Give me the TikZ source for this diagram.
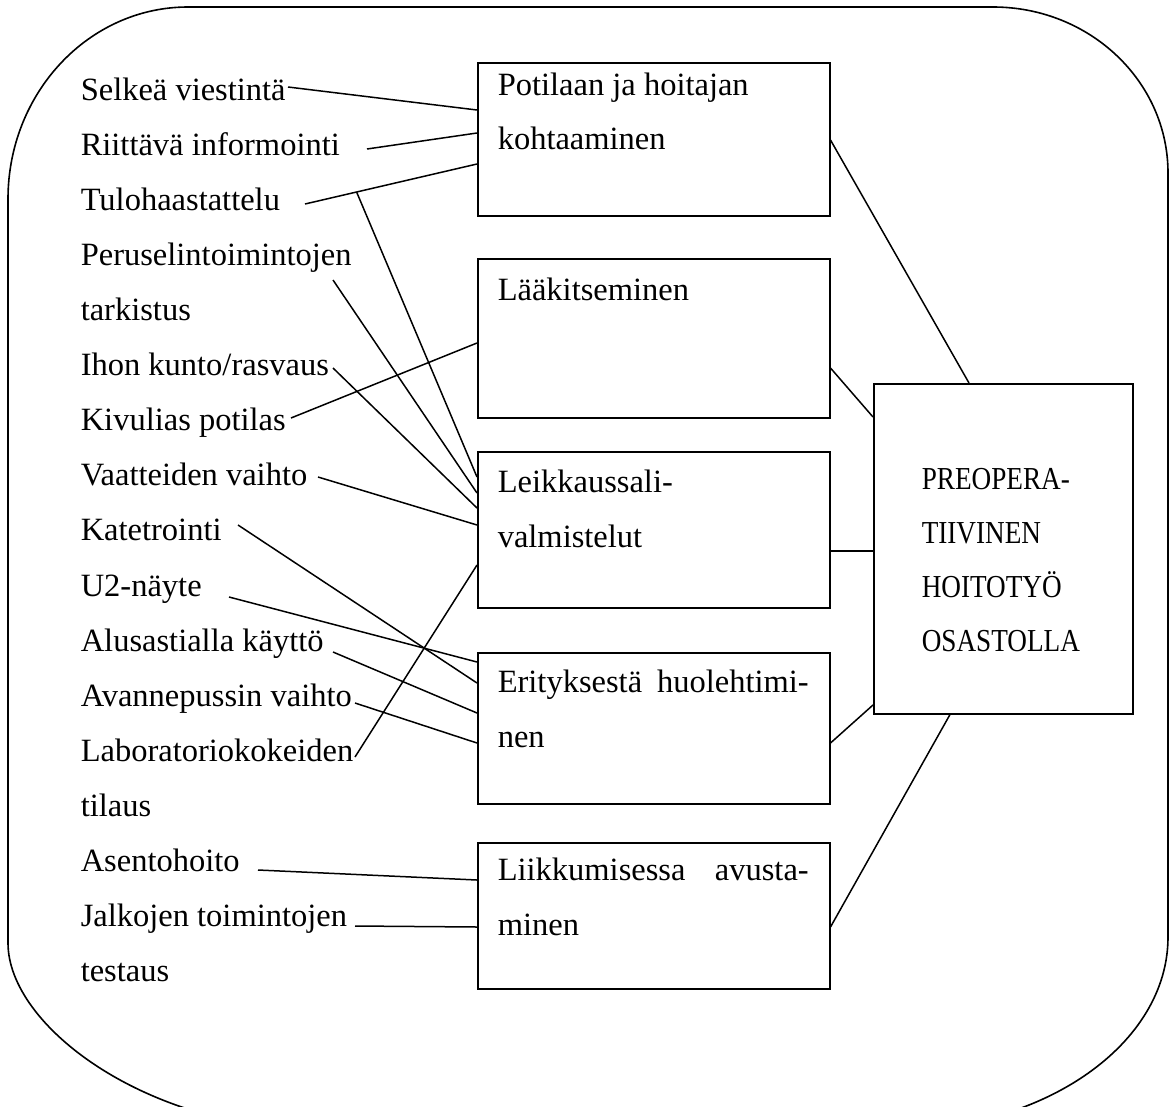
\documentclass[tikz,border=0pt]{standalone}
\usepackage{fontspec}
\setmainfont{Liberation Serif}
\newfontfamily\headfont[FakeStretch=0.85]{Liberation Serif}
\usetikzlibrary{calc}

\begin{document}
\begin{tikzpicture}[x=1pt,y=-1pt,line width=1.5pt,
  lbl/.style={anchor=base west,inner sep=0pt,font=\fontsize{32.5}{40}\selectfont},
  head/.style={anchor=base west,inner sep=0pt,font=\headfont\fontsize{32}{40}\selectfont},
  box/.style={draw,anchor=north west,inner sep=0pt,minimum width=352pt},
  link/.style={line width=1.5pt}]
\useasboundingbox (0,0) rectangle (1170,1106);
\clip (0,0) rectangle (1170,1106);

% outer frame with rounded corners
\draw[line width=1.6pt] (8,943) -- (8,199)
  .. controls (8,93) and (88.6,7) .. (188,7)
  -- (993,7)
  .. controls (1089.7,7) and (1168,81.3) .. (1168,173)
  -- (1168,937)
  .. controls (1168,1043.6) and (1045.3,1130) .. (894,1130)
  -- (321,1130)
  .. controls (148.1,1130) and (8,1026.7) .. (8,943);

% activity boxes
\node[box,minimum height=153pt] (b1) at (477,62) {};
\node[box,minimum height=159pt] (b2) at (477,258) {};
\node[box,minimum height=156pt] (b3) at (477,451) {};
\node[box,minimum height=151pt] (b4) at (477,652) {};
\node[box,minimum height=146pt] (b5) at (477,842) {};
\node[draw,anchor=north west,inner sep=0pt,minimum width=259pt,minimum height=330pt] (big) at (873,383) {};

% box captions
\node[lbl] (t1a) at (497,95) {Potilaan ja hoitajan};
\node[lbl] (t1b) at (497,149) {kohtaaminen};
\node[lbl] (t2a) at (497,300) {Lääkitseminen};
\node[lbl] (t3a) at (497,492) {Leikkaussali-};
\node[lbl] (t3b) at (497,547) {valmistelut};
\node[lbl] (t4a) at (497,692) {\makebox[311pt][s]{Erityksestä huolehtimi-}};
\node[lbl] (t4b) at (497,747) {nen};
\node[lbl] (t5a) at (497,880) {\makebox[311pt][s]{Liikkumisessa avusta-}};
\node[lbl] (t5b) at (497,935) {minen};

\node[head] (g1) at (921,489) {PREOPERA-};
\node[head] (g2) at (921,543) {TIIVINEN};
\node[head] (g3) at (921,597) {HOITOTYÖ};
\node[head] (g4) at (921,651) {OSASTOLLA};

% task list
\node[lbl] (l1) at (80,100) {Selkeä viestintä};
\node[lbl] (l2) at (80,155) {Riittävä informointi};
\node[lbl] (l3) at (80,210) {Tulohaastattelu};
\node[lbl] (l4) at (80,265) {Peruselintoimintojen};
\node[lbl] (l4b) at (80,320) {tarkistus};
\node[lbl] (l5) at (80,375) {Ihon kunto/rasvaus};
\node[lbl] (l6) at (80,430) {Kivulias potilas};
\node[lbl] (l7) at (80,485) {Vaatteiden vaihto};
\node[lbl] (l8) at (80,540) {Katetrointi};
\node[lbl] (l9) at (80,596) {U2-näyte};
\node[lbl] (l10) at (80,651) {Alusastialla käyttö};
\node[lbl] (l11) at (80,706) {Avannepussin vaihto};
\node[lbl] (l12) at (80,761) {Laboratoriokokeiden};
\node[lbl] (l12b) at (80,816) {tilaus};
\node[lbl] (l13) at (80,871) {Asentohoito};
\node[lbl] (l14) at (80,926) {Jalkojen toimintojen};
\node[lbl] (l14b) at (80,981) {testaus};

% free ends of the connectors beside the list
\coordinate (s1) at (288,87);
\coordinate (s2) at (367,149);
\coordinate (s3) at (305,204);
\coordinate (s4) at (333,280);
\coordinate (s5) at (333,368);
\coordinate (s6) at (291,418);
\coordinate (s7) at (318,477);
\coordinate (s8) at (238,525);
\coordinate (s9) at (229,597);
\coordinate (s10) at (333,652);
\coordinate (s11) at (355,703);
\coordinate (s12) at (355,757);
\coordinate (s13) at (258,870);
\coordinate (s14) at (355,926);

% list items to boxes
\draw[link] (s1) -- ($(b1.north west)+(0,48)$);
\draw[link] (s2) -- ($(b1.north west)+(0,71)$);
\draw[link] (s3) -- coordinate[pos=0.3] (m3) ($(b1.north west)+(0,102)$);
\draw[link] (m3) -- ($(b3.north west)+(0,26)$);
\draw[link] (s4) -- ($(b3.north west)+(0,42)$);
\draw[link] (s5) -- ($(b3.north west)+(0,57)$);
\draw[link] (s6) -- ($(b2.north west)+(0,85)$);
\draw[link] (s7) -- ($(b3.north west)+(0,74)$);
\draw[link] (s8) -- ($(b4.north west)+(0,31)$);
\draw[link] (s9) -- ($(b4.north west)+(0,10)$);
\draw[link] (s10) -- ($(b4.north west)+(0,61)$);
\draw[link] (s11) -- ($(b4.north west)+(0,91)$);
\draw[link] (s12) -- ($(b3.north west)+(0,114)$);
\draw[link] (s13) -- ($(b5.north west)+(0,38)$);
\draw[link] (s14) -- ($(b5.north west)+(0,85)$);

% boxes to the main topic
\draw[link] ($(b1.north east)+(0,78)$) -- ($(big.north west)+(96,0)$);
\draw[link] ($(b2.north east)+(0,110)$) -- ($(big.north west)+(0,34)$);
\draw[link] ($(b3.north east)+(0,100)$) -- ($(big.north west)+(0,168)$);
\draw[link] ($(b4.north east)+(0,91)$) -- ($(big.north west)+(0,322)$);
\draw[link] ($(b5.north east)+(0,85)$) -- ($(big.south west)+(77,0)$);
\end{tikzpicture}
\end{document}
